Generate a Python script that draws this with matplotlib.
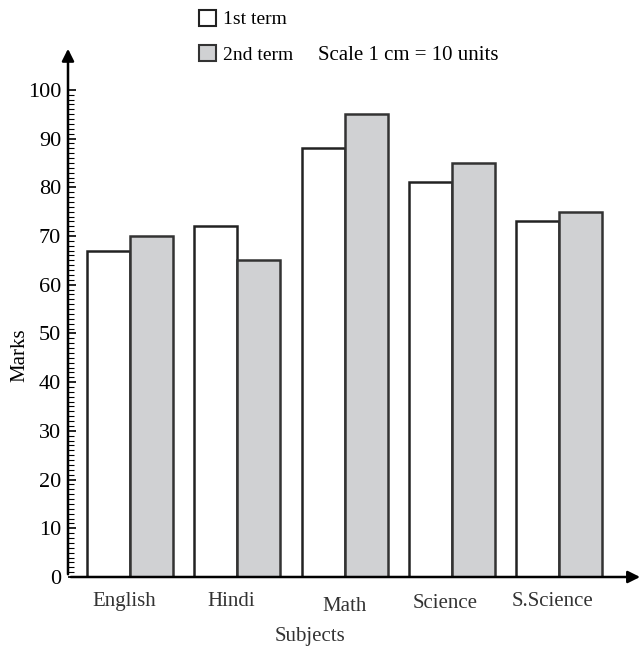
import matplotlib.pyplot as plt
import numpy as np
from matplotlib.patches import Patch

subjects = ['English', 'Hindi', 'Math', 'Science', 'S.Science']
term1 = [67, 72, 88, 81, 73]
term2 = [70, 65, 95, 85, 75]

plt.rcParams['font.family'] = ['Liberation Serif', 'DejaVu Serif']

fig = plt.figure(figsize=(6.4, 6.5), dpi=100)
ax = fig.add_axes([68/640, 73/650, 572/640, 531/650])

x = 1.45 + 2.49 * np.arange(len(subjects))
w = 1.0
ax.bar(x - w/2, term1, w, color='white', edgecolor='#222222', linewidth=1.8)
ax.bar(x + w/2, term2, w, color='#d0d1d3', edgecolor='#333333', linewidth=1.8)

ax.set_xlim(0, 13.3)
ax.set_ylim(0, 109)
for s in ax.spines.values():
  s.set_visible(False)

# axes with arrows
ax.annotate('', xy=(0, 1), xytext=(0, 0), xycoords='axes fraction',
            arrowprops=dict(arrowstyle='-|>', color='black', lw=1.8, mutation_scale=18))
ax.annotate('', xy=(1.005, 0), xytext=(0, 0), xycoords='axes fraction',
            arrowprops=dict(arrowstyle='-|>', color='black', lw=1.8, mutation_scale=18))

ax.set_yticks(np.arange(0, 101, 10))
ax.set_yticks(np.arange(0, 101, 1), minor=True)
ax.tick_params(axis='y', which='major', direction='in', length=6, width=1.2, labelsize=16, pad=5)
ax.tick_params(axis='y', which='minor', direction='in', length=4, width=0.8)
ax.set_xticks([])

# subject labels (slightly staggered as in the original)
label_dy = [-5, -5, -6, -5.5, -5]
for xi, name, dy in zip(x, subjects, label_dy):
  ax.text(xi - 0.15 if name != 'Math' else xi, dy, name, ha='center', va='center', fontsize=15, color='#333333')

fig.text(310/640, 1 - 636/650, 'Subjects', ha='center', va='center', fontsize=15, color='#333333')
fig.text(20/640, 1 - 355/650, 'Marks', ha='center', va='center', rotation=90, fontsize=15)

handles = [Patch(facecolor='white', edgecolor='#222222', linewidth=1.5, label='1st term'),
           Patch(facecolor='#d0d1d3', edgecolor='#333333', linewidth=1.5, label='2nd term')]
fig.legend(handles=handles, loc='upper left', bbox_to_anchor=(199/640, 1 - 10/650), frameon=False,
           borderpad=0, borderaxespad=0, fontsize=14, handlelength=0.85, handleheight=0.85,
           handletextpad=0.4, labelspacing=0.85)
fig.text(318/640, 1 - 56/650, 'Scale 1 cm = 10 units', ha='left', va='center', fontsize=15)

fig.savefig('out.png', dpi=100)
